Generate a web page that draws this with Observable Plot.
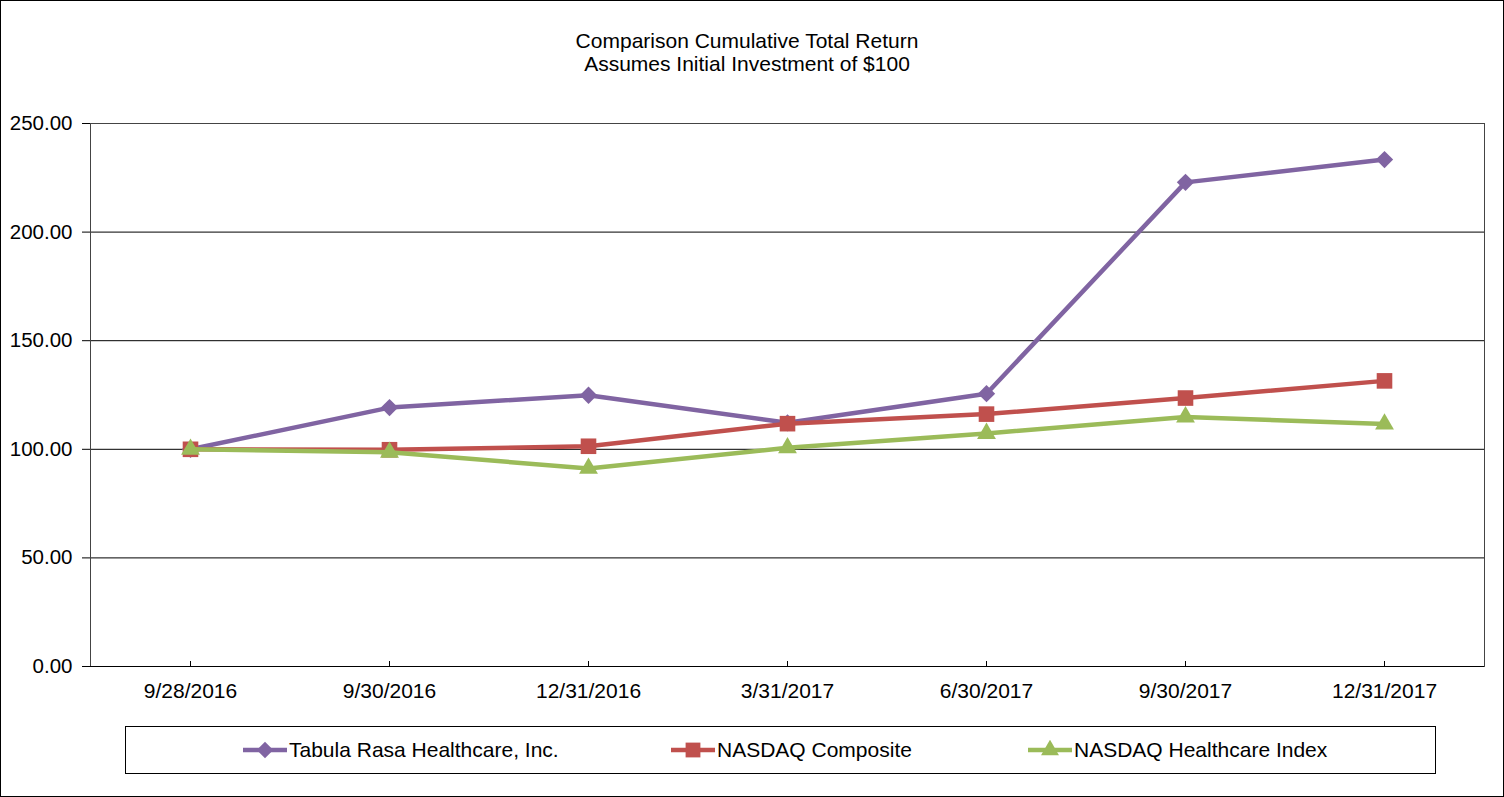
<!DOCTYPE html>
<html>
<head>
<meta charset="utf-8">
<script src="https://cdn.jsdelivr.net/npm/d3@7"></script>
<script src="https://cdn.jsdelivr.net/npm/@observablehq/plot@0.6"></script>
<style>
  html, body { margin: 0; padding: 0; background: #fff; }
  #wrap { position: relative; width: 1504px; height: 797px; font-family: "Liberation Sans", Arial, sans-serif; color: #000; overflow: hidden; }
  #border { position: absolute; left: 0; top: 0; width: 1502px; height: 795px; border: 1px solid #000; pointer-events: none; }
  #title { position: absolute; left: 0; width: 1494px; top: 29px; text-align: center; font-size: 21px; line-height: 23px; }
  #chart { position: absolute; left: 0; top: 0; }
  #legend { position: absolute; left: 125px; top: 726px; width: 1309px; height: 46px; border: 1px solid #000; background: #fff; }
  .item { position: absolute; top: 0; height: 46px; display: flex; align-items: center; font-size: 21px; white-space: nowrap; }
  .item svg { margin-right: 1px; }
</style>
</head>
<body>
<div id="wrap">
  <div id="title">Comparison Cumulative Total Return<br>Assumes Initial Investment of $100</div>
  <div id="chart"></div>
  <div id="legend"></div>
  <div id="border"></div>
</div>
<script>
const dates = ["9/28/2016", "9/30/2016", "12/31/2016", "3/31/2017", "6/30/2017", "9/30/2017", "12/31/2017"];
const seriesNames = ["Tabula Rasa Healthcare, Inc.", "NASDAQ Composite", "NASDAQ Healthcare Index"];
const tabulaRasa = [100.00, 119.2, 124.9, 112.2, 125.6, 222.9, 233.4];
const nasdaqComposite = [100.00, 99.8, 101.4, 111.8, 116.2, 123.6, 131.5];
const nasdaqHealthcare = [100.00, 98.6, 91.2, 100.7, 107.3, 114.9, 111.6];
const yTicks = [0, 50, 100, 150, 200, 250];

const colors = ["#8064A2", "#C0504D", "#9BBB59"];
const symbols = ["diamond2", "square", "triangle"];
const radii = [7.8, 8.8, 7.0];
const values = [tabulaRasa, nasdaqComposite, nasdaqHealthcare];

const rows = [];
seriesNames.forEach((s, i) => {
  values[i].forEach((v, j) => rows.push({series: s, date: dates[j], value: v}));
});

const marks = [
  Plot.gridY(yTicks.filter(t => t > 0 && t < 250), {stroke: "#000", strokeOpacity: 1, strokeWidth: 1}),
  Plot.frame({stroke: "#444", strokeWidth: 1}),
  Plot.axisY({ticks: yTicks, tickSize: 8, tickPadding: 10, tickFormat: d => d.toFixed(2), label: null, fontSize: 20.5}),
  Plot.axisX({tickSize: 5, dy: -5, text: null, label: null}),
  Plot.axisX({tickSize: 0, tickPadding: 17, label: null, fontSize: 21}),
  Plot.ruleY([0], {stroke: "#000"})
];
seriesNames.forEach((s, i) => {
  const data = rows.filter(r => r.series === s);
  marks.push(Plot.line(data, {x: "date", y: "value", stroke: colors[i], strokeWidth: 4.5}));
  marks.push(Plot.dot(data, {x: "date", y: "value", symbol: () => symbols[i], r: radii[i], fill: colors[i], stroke: "none"}));
});

const chart = Plot.plot({
  width: 1504,
  height: 797,
  marginLeft: 90,
  marginRight: 20,
  marginTop: 123,
  marginBottom: 131,
  style: {fontFamily: "'Liberation Sans', Arial, sans-serif", fontSize: "20px", color: "#000", background: "transparent"},
  x: {type: "point", domain: dates, padding: 0.5},
  y: {domain: [0, 250]},
  symbol: {type: "identity"},
  marks
});
document.getElementById("chart").appendChild(chart);

// Legend
const legend = d3.select("#legend");
const lefts = [117, 545, 902];
const symMap = {diamond2: d3.symbolDiamond2, square: d3.symbolSquare, triangle: d3.symbolTriangle};
seriesNames.forEach((s, i) => {
  const item = legend.append("div").attr("class", "item").style("left", lefts[i] + "px");
  const sv = item.append("svg").attr("width", 45).attr("height", 20);
  sv.append("line").attr("x1", 0).attr("x2", 44).attr("y1", 10).attr("y2", 10)
    .attr("stroke", colors[i]).attr("stroke-width", 4.5);
  sv.append("path").attr("transform", "translate(22,10)")
    .attr("d", d3.symbol(symMap[symbols[i]], Math.PI * radii[i] * radii[i] * 0.9)())
    .attr("fill", colors[i]);
  item.append("span").text(s);
});
</script>
</body>
</html>
